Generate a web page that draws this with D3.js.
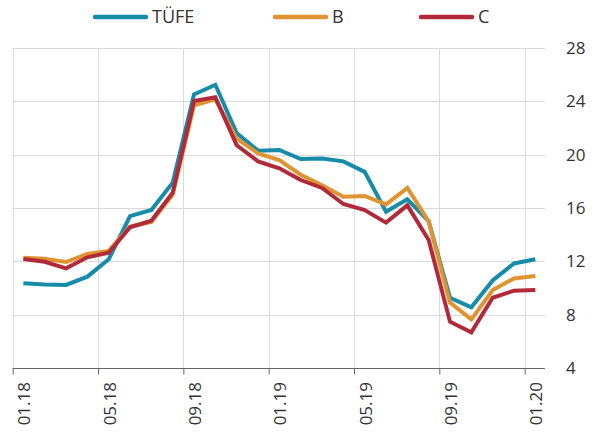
<!DOCTYPE html>
<html>
<head>
<meta charset="utf-8">
<script src="https://cdn.jsdelivr.net/npm/d3@7/dist/d3.min.js"></script>
<style>
  html, body { margin: 0; padding: 0; background: #fff; }
  svg text { font-family: "Open Sans", sans-serif; fill: #333; }
</style>
</head>
<body>
<svg id="chart" width="596" height="439"></svg>
<script>
const months = ["01.18","02.18","03.18","04.18","05.18","06.18","07.18","08.18","09.18","10.18","11.18","12.18",
                "01.19","02.19","03.19","04.19","05.19","06.19","07.19","08.19","09.19","10.19","11.19","12.19","01.20"];
const tufe = [10.35,10.26,10.23,10.85,12.15,15.39,15.85,17.90,24.52,25.24,21.62,20.30,
              20.35,19.67,19.71,19.50,18.71,15.72,16.65,15.01,9.26,8.55,10.56,11.84,12.15];
const seriesB = [12.27,12.20,11.95,12.55,12.78,14.60,14.95,17.00,23.70,24.15,21.20,20.10,
                 19.60,18.50,17.70,16.85,16.90,16.27,17.50,15.00,8.90,7.65,9.85,10.72,10.90];
const seriesC = [12.18,11.97,11.47,12.30,12.65,14.55,15.05,17.15,24.03,24.30,20.70,19.50,
                 18.98,18.10,17.50,16.30,15.85,14.90,16.20,13.60,7.47,6.67,9.27,9.80,9.85];
const yTicks = [4,8,12,16,20,24,28];
const seriesNames = ["TÜFE","B","C"];
const colors = ["#168ca8","#e09431","#b22a3a"];

const svg = d3.select("#chart");
const pLeft = 12.7, pRight = 546, pTop = 48, pBottom = 368;

const x = d3.scaleLinear().domain([0, months.length]).range([pLeft, pRight]);
const y = d3.scaleLinear().domain([4, 28]).range([pBottom, pTop]);

const tickIdx = months.map((m,i)=>i).filter(i => i % 4 === 0);

// horizontal gridlines
svg.append("g").selectAll("line").data(yTicks.filter(t => t > 4)).join("line")
  .attr("x1", pLeft).attr("x2", pRight - 1)
  .attr("y1", d => Math.round(y(d)) + 0.5).attr("y2", d => Math.round(y(d)) + 0.5)
  .attr("stroke", "#d9d9d9").attr("stroke-width", 1);

// vertical gridlines
svg.append("g").selectAll("line").data(tickIdx).join("line")
  .attr("x1", d => Math.round(x(d)) + 0.5).attr("x2", d => Math.round(x(d)) + 0.5)
  .attr("y1", pTop).attr("y2", pBottom)
  .attr("stroke", "#d9d9d9").attr("stroke-width", 1);

// x axis
const xAxis = d3.axisBottom(x).tickValues(tickIdx).tickSize(6).tickFormat("");
const gx = svg.append("g").attr("transform", `translate(0,${pBottom + 0.5})`).call(xAxis);
gx.select(".domain").attr("stroke", "#666").attr("d", `M${pLeft},0H${pRight - 1}`);
gx.selectAll(".tick line").attr("stroke", "#666");

svg.append("g").selectAll("text").data(tickIdx).join("text")
  .attr("transform", d => `translate(${x(d + 0.5) + 1},382) rotate(-90)`)
  .attr("text-anchor", "end")
  .attr("dy", "0.35em")
  .style("font-size", "17px")
  .text(d => months[d]);

// y axis labels (right)
svg.append("g").selectAll("text").data(yTicks).join("text")
  .attr("x", 566).attr("y", d => y(d))
  .attr("dy", "0.36em")
  .style("font-size", "17px")
  .text(d => d);

// lines
const line = d3.line().x((d,i) => x(i + 0.5)).y(d => y(d));
[tufe, seriesB, seriesC].forEach((s, k) => {
  svg.append("path").datum(s)
    .attr("d", line)
    .attr("fill", "none")
    .attr("stroke", colors[k])
    .attr("stroke-width", 4)
    .attr("stroke-linejoin", "miter");
});

// legend
const legX = [93, 273, 419];
const lg = svg.append("g");
seriesNames.forEach((n, k) => {
  lg.append("line").attr("x1", legX[k] + 2).attr("x2", legX[k] + 53)
    .attr("y1", 17).attr("y2", 17)
    .attr("stroke", colors[k]).attr("stroke-width", 4.5).attr("stroke-linecap", "round");
  lg.append("text").attr("x", legX[k] + 59).attr("y", 17).attr("dy", "0.36em")
    .style("font-size", "18px").text(n);
});
</script>
</body>
</html>
